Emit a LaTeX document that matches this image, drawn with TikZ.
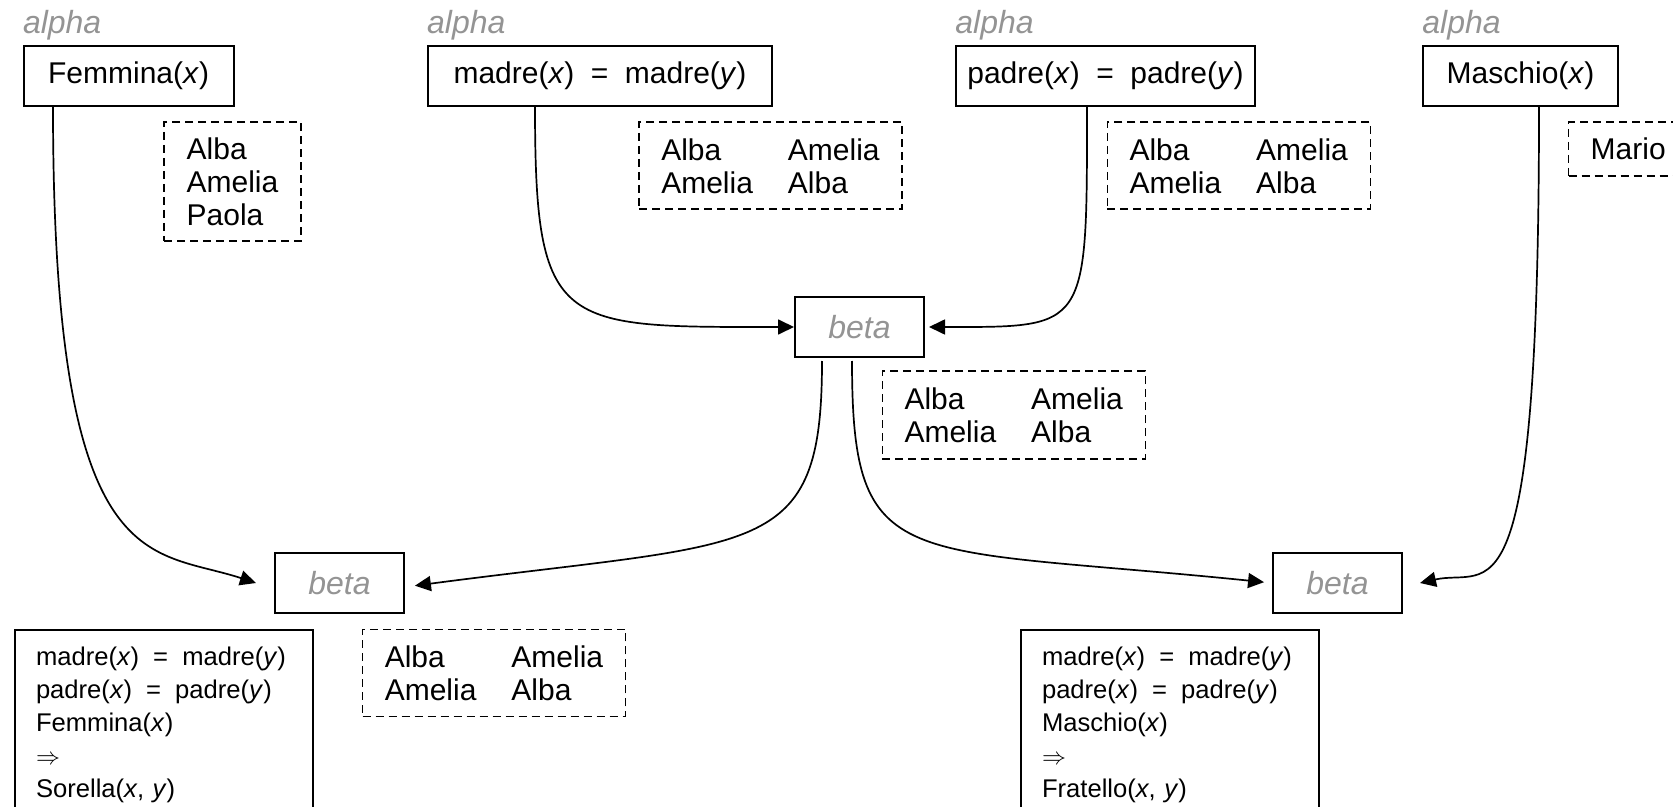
\documentclass[tikz,border=0pt]{standalone}
\usepackage{fontspec}
\setmainfont{Liberation Sans}
\usepackage{xcolor}
\usepackage{tikz}
\usetikzlibrary{arrows.meta, positioning}

\definecolor{labelgray}{gray}{0.58}
\newcommand{\isequal}{\hspace{0.55em}=\hspace{0.55em}}
\newcommand{\lowered}[1]{\raisebox{-2.3pt}[\height][\depth]{#1}}
\newcommand{\siblingpairs}{\lowered{\begin{tabular}{@{}l@{\hspace{17.5pt}}l@{}}Alba & Amelia\\Amelia & Alba\end{tabular}}}

\begin{document}
\begin{tikzpicture}[
  x=0.5pt, y=-0.5pt,
  fact/.style={rectangle, draw=black, line width=1pt, minimum height=30pt, inner sep=0pt, font=\fontsize{15}{16.5}\selectfont},
  betabox/.style={rectangle, draw=black, line width=1pt, minimum width=64.5pt, minimum height=30pt, inner sep=0pt, text=labelgray, font=\fontsize{16}{17}\selectfont\itshape},
  alphalabel/.style={inner sep=0pt, text=labelgray, font=\fontsize{16}{17}\selectfont\itshape},
  tuples/.style={rectangle, draw=black, line width=0.7pt, dash pattern=on 4pt off 2.5pt, inner xsep=11pt, inner ysep=0pt, font=\fontsize{15}{16.5}\selectfont},
  rulebox/.style={rectangle, draw=black, line width=1pt, anchor=north west, text width=128pt, align=left, inner xsep=10.5pt, inner ysep=8.5pt, font=\fontsize{12.8}{16.5}\selectfont},
  arrow/.style={line width=0.85pt, -{Triangle[length=8pt, width=7.5pt]}}
]
\path[use as bounding box, clip] (0,0) rectangle (1673,807);

% Alpha memories (top row)
\node (fem) [fact, minimum width=105pt] at (128.6,76) {Femmina(\textit{x})};
\node (madre) [fact, minimum width=172.25pt] at (600,76) {madre(\textit{x})\isequal madre(\textit{y})};
\node (padre) [fact, minimum width=149.5pt] at (1105.5,76) {padre(\textit{x})\isequal padre(\textit{y})};
\node (masch) [fact, minimum width=97.5pt] at (1520.5,76) {Maschio(\textit{x})};

\node (alphafem) [alphalabel, above right=2pt and 0pt of fem.north west] {alpha};
\node (alphamadre) [alphalabel, above right=2pt and 0pt of madre.north west] {alpha};
\node (alphapadre) [alphalabel, above right=2pt and 0pt of padre.north west] {alpha};
\node (alphamasch) [alphalabel, above right=2pt and 0pt of masch.north west] {alpha};

% Tuple lists
\node (femlist) [tuples, minimum width=68.5pt, minimum height=59.5pt] at (232.5,181.5) {\lowered{\begin{tabular}{@{}l@{}}Alba\\Amelia\\Paola\end{tabular}}};
\node (madrelist) [tuples, minimum width=131.5pt, minimum height=43.5pt] at (770.5,165.5) {\siblingpairs};
\node (padrelist) [tuples, minimum width=131.5pt, minimum height=43.5pt] at (1238.75,165.5) {\siblingpairs};
\node (maschlist) [tuples, minimum height=27pt, anchor=west] at (1568,149) {Mario};

% Beta memories
\node (betamid) [betabox] at (859.5,327) {beta};
\node (betaleft) [betabox] at (339.5,583) {beta};
\node (betaright) [betabox] at (1337.5,583) {beta};

\node (midlist) [tuples, minimum width=131.5pt, minimum height=44pt] at (1013.7,415) {\siblingpairs};
\node (sislist) [tuples, minimum width=131.5pt, minimum height=43.5pt] at (494,672.8) {\siblingpairs};

% Productions
\node (sisrule) [rulebox] at (14,629) {madre(\textit{x})\isequal madre(\textit{y})\\padre(\textit{x})\isequal padre(\textit{y})\\Femmina(\textit{x})\\$\Rightarrow$\\Sorella(\textit{x}, \textit{y})};
\node (brorule) [rulebox] at (1020,629) {madre(\textit{x})\isequal madre(\textit{y})\\padre(\textit{x})\isequal padre(\textit{y})\\Maschio(\textit{x})\\$\Rightarrow$\\Fratello(\textit{x}, \textit{y})};

% Connectors
\draw [arrow] ([xshift=-37.8pt]fem.south) .. controls +(0,474) and +(-107,-35) .. ([xshift=-9pt]betaleft.west);
\draw [arrow] ([xshift=-32.5pt]madre.south) .. controls +(0,224) and +(-235,0) .. (betamid.west);
\draw [arrow, shorten >=2pt] ([xshift=-9.25pt]padre.south) .. controls +(0,224) and +(163,0) .. (betamid.east);
\draw [arrow] ([xshift=9.25pt]masch.south) .. controls +(0,534) and +(70,-16) .. ([xshift=8.5pt]betaright.east);
\draw [arrow, shorten >=5pt] ([xshift=-18.75pt, yshift=-1.5pt]betamid.south) .. controls +(0,200) and +(356,-47) .. ([yshift=-2pt]betaleft.east);
\draw [arrow, shorten >=4pt] ([xshift=-3.75pt, yshift=-1.5pt]betamid.south) .. controls +(0,215) and +(-372,-38) .. (betaright.west);

\end{tikzpicture}
\end{document}
